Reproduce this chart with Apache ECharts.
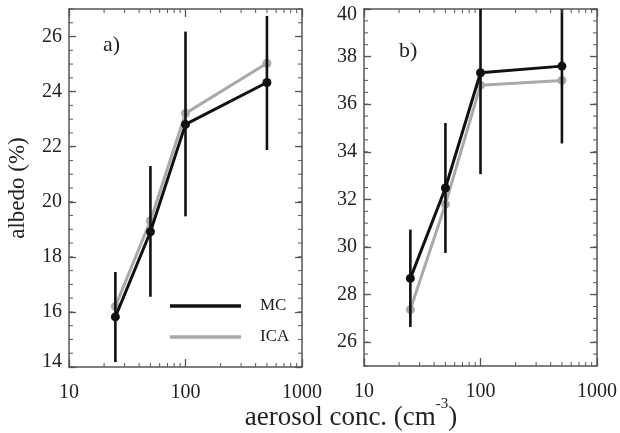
<!DOCTYPE html>
<html>
<head>
<meta charset="utf-8">
<script src="https://cdn.jsdelivr.net/npm/echarts@6/dist/echarts.min.js"></script>
<style>
html,body{margin:0;padding:0;background:#fff;}
#chart{width:620px;height:433px;}
</style>
</head>
<body>
<div id="chart"></div>
<script>
// ---- data ----
const concentrations = [25, 50, 100, 500];
// panel a)
const mcA = [15.82, 18.91, 22.81, 24.33];
const icaA = [16.2, 19.31, 23.21, 25.03];
const mcLowA = [14.18, 16.55, 19.47, 21.88];
const mcHighA = [17.45, 21.3, 26.18, 26.75];
// panel b)
const mcB = [28.68, 32.48, 37.32, 37.6];
const icaB = [27.37, 31.8, 36.8, 37.0];
const mcLowB = [26.64, 29.75, 33.06, 34.35];
const mcHighB = [30.73, 35.21, 41.6, 40.9];
// ticks
const xMajorTicks = [10, 100, 1000];
const xMinorTicks = [20, 30, 40, 50, 60, 70, 80, 90, 200, 300, 400, 500, 600, 700, 800, 900];
const yMajorTicksA = [14, 16, 18, 20, 22, 24, 26];
const yMajorTicksB = [26, 28, 30, 32, 34, 36, 38, 40];
const yRangeA = [14, 27];
const yRangeB = [25, 40];

const FONT = 'Liberation Serif';
const AXC = '#555';
const TXT = '#222';

function halfSteps(r) { const out = []; for (let v = r[0]; v <= r[1] + 1e-9; v += 0.5) out.push(v); return out; }

function xAxes(g) {
  const base = { type: 'log', logBase: 10, gridIndex: g, min: 10, max: 1000, splitLine: { show: false } };
  return [
    Object.assign({}, base, { position: 'bottom',
      axisLine: { show: true, onZero: false, lineStyle: { color: AXC, width: 1.5 } },
      axisTick: { show: true, inside: true, length: 8, customValues: xMajorTicks, lineStyle: { color: AXC, width: 1.3 } },
      axisLabel: { show: true, margin: 16, customValues: xMajorTicks, fontFamily: FONT, fontSize: 20, color: TXT, formatter: v => String(Math.round(v)) } }),
    Object.assign({}, base, { position: 'top',
      axisLine: { show: true, onZero: false, lineStyle: { color: AXC, width: 1.5 } },
      axisTick: { show: true, inside: true, length: 8, customValues: xMajorTicks, lineStyle: { color: AXC, width: 1.3 } },
      axisLabel: { show: false } })
  ];
}
function yAxes(g, range, majors, name) {
  const base = { type: 'value', gridIndex: g, min: range[0], max: range[1], splitLine: { show: false } };
  const left = Object.assign({}, base, { position: 'left',
      axisLine: { show: true, onZero: false, lineStyle: { color: AXC, width: 1.5 } },
      axisTick: { show: true, inside: true, length: 7, customValues: majors, lineStyle: { color: AXC, width: 1.3 } },
      axisLabel: { show: true, margin: 7, customValues: majors, fontFamily: FONT, fontSize: 20, color: TXT,
        formatter: v => (v === range[0] ? '{lo|' + v + '}' : v === range[1] ? '{hi|' + v + '}' : String(v)),
        rich: { lo: { fontFamily: FONT, fontSize: 20, color: TXT, padding: [0, 0, 10, 0] },
                hi: { fontFamily: FONT, fontSize: 20, color: TXT, padding: [11, 0, 0, 0] } } } });
  if (name) {
    Object.assign(left, { name, nameLocation: 'middle', nameGap: 40, nameRotate: 90,
      nameTextStyle: { fontFamily: FONT, fontSize: 23, color: TXT } });
  }
  return [
    left,
    Object.assign({}, base, { position: 'right',
      axisLine: { show: true, onZero: false, lineStyle: { color: AXC, width: 1.5 } },
      axisTick: { show: true, inside: true, length: 7, customValues: majors, lineStyle: { color: AXC, width: 1.3 } },
      axisLabel: { show: false } })
  ];
}

function pairs(xs, ys) { return xs.map((x, i) => [x, ys[i]]); }
function triples(xs, lo, hi) { return xs.map((x, i) => [x, lo[i], hi[i]]); }

function lineSeries(name, data, color, xi, yi, z) {
  return { type: 'line', name, data, xAxisIndex: xi, yAxisIndex: yi, z,
    symbol: 'circle', symbolSize: 9, showSymbol: true,
    itemStyle: { color }, lineStyle: { color, width: 3 }, emphasis: { disabled: true }, animation: false };
}
function errSeries(data, xi, yi) {
  return { type: 'custom', name: 'err', data, xAxisIndex: xi, yAxisIndex: yi, z: 5, clip: true,
    encode: { x: 0, y: [1, 2] }, animation: false,
    renderItem(params, api) {
      const x = api.value(0), lo = api.value(1), hi = api.value(2);
      const p1 = api.coord([x, lo]), p2 = api.coord([x, hi]);
      const cs = params.coordSys;
      const top = Math.max(p2[1], cs.y), bot = Math.min(p1[1], cs.y + cs.height);
      return { type: 'line', shape: { x1: p1[0], y1: bot, x2: p1[0], y2: top }, style: { stroke: '#111', lineWidth: 2.6 } };
    } };
}
// minor ticks on both mirrored edges (drawn through the axes' scales)
function minorXTicks(xi, yi, yMin) {
  return { type: 'custom', name: 'minorX', data: xMinorTicks.map(v => [v, yMin]), xAxisIndex: xi, yAxisIndex: yi, z: 6,
    encode: { x: 0, y: 1 }, animation: false, silent: true,
    renderItem(params, api) {
      const p = api.coord([api.value(0), api.value(1)]);
      const cs = params.coordSys, L = 4;
      return { type: 'group', children: [
        { type: 'line', shape: { x1: p[0], y1: cs.y + cs.height, x2: p[0], y2: cs.y + cs.height - L }, style: { stroke: AXC, lineWidth: 1 } },
        { type: 'line', shape: { x1: p[0], y1: cs.y, x2: p[0], y2: cs.y + L }, style: { stroke: AXC, lineWidth: 1 } }
      ] };
    } };
}
function minorYTicks(xi, yi, range) {
  return { type: 'custom', name: 'minorY', data: halfSteps(range).map(v => [10, v]), xAxisIndex: xi, yAxisIndex: yi, z: 6,
    encode: { x: 0, y: 1 }, animation: false, silent: true,
    renderItem(params, api) {
      const p = api.coord([api.value(0), api.value(1)]);
      const cs = params.coordSys, L = 4;
      return { type: 'group', children: [
        { type: 'line', shape: { x1: cs.x, y1: p[1], x2: cs.x + L, y2: p[1] }, style: { stroke: AXC, lineWidth: 1 } },
        { type: 'line', shape: { x1: cs.x + cs.width, y1: p[1], x2: cs.x + cs.width - L, y2: p[1] }, style: { stroke: AXC, lineWidth: 1 } }
      ] };
    } };
}

const chart = echarts.init(document.getElementById('chart'), null, { renderer: 'canvas' });
chart.setOption({
  backgroundColor: '#fff',
  animation: false,
  textStyle: { fontFamily: FONT },
  grid: [
    { left: 69, top: 9, width: 233, height: 358 },
    { left: 364, top: 9, width: 234, height: 357 }
  ],
  xAxis: xAxes(0).concat(xAxes(1)),
  yAxis: yAxes(0, yRangeA, yMajorTicksA, 'albedo (%)').concat(yAxes(1, yRangeB, yMajorTicksB, null)),
  legend: {
    data: ['MC', 'ICA'], orient: 'vertical', left: 165, top: 291,
    icon: 'rect', itemWidth: 71, itemHeight: 3.5, itemGap: 11,
    textStyle: { fontFamily: FONT, fontSize: 17, color: TXT, lineHeight: 20, padding: [0, 0, 0, 14] },
    selectedMode: false
  },
  series: [
    minorXTicks(0, 0, yRangeA[0]),
    minorYTicks(0, 0, yRangeA),
    minorXTicks(2, 2, yRangeB[0]),
    minorYTicks(2, 2, yRangeB),
    lineSeries('ICA', pairs(concentrations, icaA), '#a9a9a9', 0, 0, 2),
    lineSeries('MC', pairs(concentrations, mcA), '#111111', 0, 0, 3),
    errSeries(triples(concentrations, mcLowA, mcHighA), 0, 0),
    lineSeries('ICA', pairs(concentrations, icaB), '#a9a9a9', 2, 2, 2),
    lineSeries('MC', pairs(concentrations, mcB), '#111111', 2, 2, 3),
    errSeries(triples(concentrations, mcLowB, mcHighB), 2, 2)
  ],
  graphic: [
    { type: 'text', left: 103, top: 34, style: { text: 'a)', font: "22px 'Liberation Serif'", fill: TXT } },
    { type: 'text', left: 399, top: 40, style: { text: 'b)', font: "22px 'Liberation Serif'", fill: TXT } },
    { type: 'text', x: 351, y: 397,
      style: { text: '{a|aerosol conc. (cm}{s|-3}{a|)}', align: 'center', verticalAlign: 'top', fill: TXT,
        rich: { a: { fontFamily: FONT, fontSize: 27, lineHeight: 34, fill: TXT, verticalAlign: 'bottom' },
                s: { fontFamily: FONT, fontSize: 15, lineHeight: 34, fill: TXT, verticalAlign: 'top' } } } }
  ]
});
</script>
</body>
</html>
